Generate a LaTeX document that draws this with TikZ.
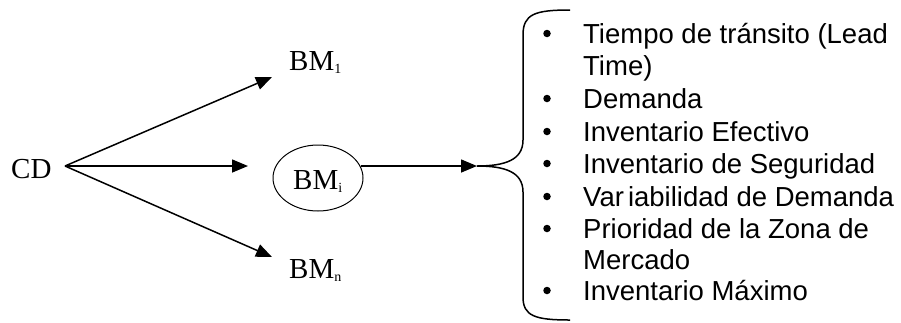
\documentclass[tikz,border=0pt]{standalone}
\usepackage{fontspec}
\setmainfont{Liberation Serif}
\newfontfamily\arialf{Liberation Sans}
\usetikzlibrary{arrows.meta,shapes.geometric}
\tikzset{
  serifl/.style={font=\fontsize{29}{34}\selectfont, inner sep=0pt},
  item/.style={font=\arialf\fontsize{27.5}{32}\selectfont, inner sep=0pt, anchor=base west},
  dotb/.style={circle, fill=black, inner sep=0pt, minimum size=7.5pt},
  arr/.style={line width=1.5pt, -{Triangle[length=16pt,width=13pt]}},
  brace/.style={line width=1.5pt}
}
\newcommand{\sub}[1]{\raisebox{-0.12em}{\fontsize{14}{14}\selectfont #1}}
\begin{document}
\begin{tikzpicture}[x=1pt,y=-1pt]
\useasboundingbox (0,0) rectangle (901,322);
\node[serifl, anchor=base west] (cd) at (11,178) {CD};
\coordinate (apex) at (65,166);
\coordinate (t1) at (272,77);
\coordinate (tm) at (248,166);
\coordinate (tn) at (272,257);
\node[serifl, anchor=base west] (bm1) at (289,70) {BM\sub{1}};
\node[serifl, anchor=base west] (bmn) at (289,278) {BM\sub{n}};
\node[ellipse, draw, line width=1pt, minimum width=90pt, minimum height=66pt, inner sep=0pt] (bmi) at (318,178) {};
\node[serifl, anchor=base west] (bmit) at (293,189) {BM\sub{i}};
\coordinate (es) at (361,166);
\coordinate (tip) at (477,166);
\draw[arr] (apex) -- (t1);
\draw[arr] (apex) -- (tm);
\draw[arr] (apex) -- (tn);
\draw[arr] (es) -- (tip);
\draw[brace] (570,10) .. controls (535,10) and (523,14) .. (523,35)
  -- (523,140) .. controls (523,160) and (505,166) .. (tip)
  .. controls (505,166) and (523,172) .. (523,192)
  -- (523,297) .. controls (523,316) and (535,320) .. (570,320);
\foreach \n/\y/\t in {1/43/{Tiempo de tránsito (Lead},2/108/{Demanda},3/141/{Inventario Efectivo},4/173/{Inventario de Seguridad},5/206/{Var\kern0.15em iabilidad de Demanda},6/238/{Prioridad de la Zona de},7/300/{Inventario Máximo}}{
  \node[item] (it\n) at (583,\y) {\t};
  \node[dotb] (dot\n) at (547,\y-9.5) {};
}
\node[item] (it1b) at (583,75) {Time)};
\node[item] (it6b) at (583,269) {Mercado};
\end{tikzpicture}
\end{document}
